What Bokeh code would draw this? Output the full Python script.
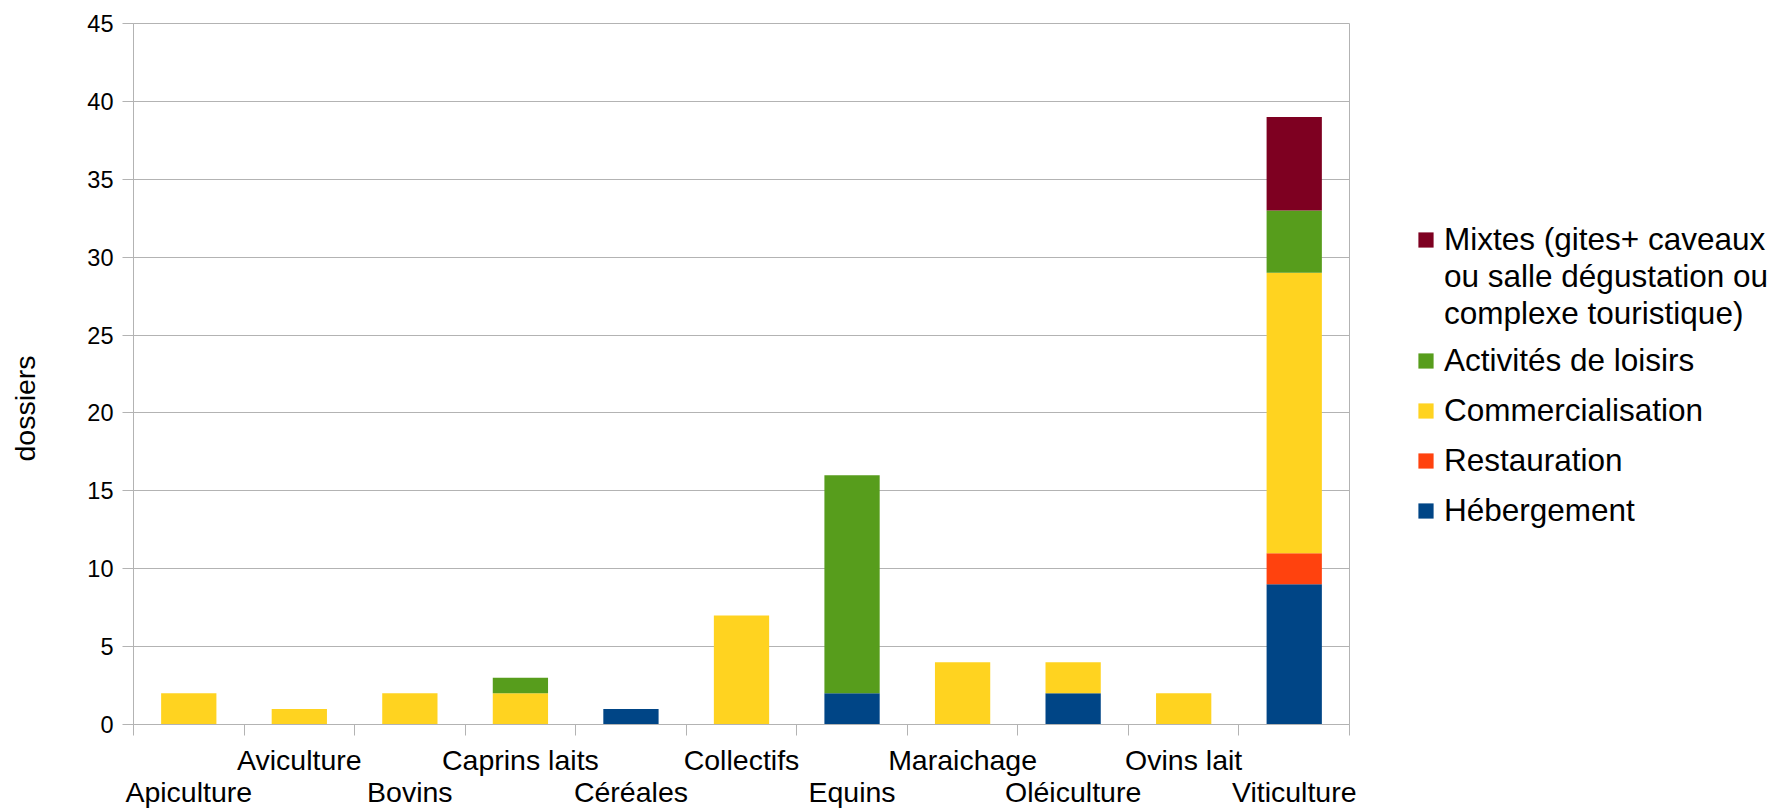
import math
from bokeh.plotting import figure
from bokeh.models import (ColumnDataSource, Range1d, FixedTicker, Legend, LegendItem, Label)
from bokeh.layouts import row
from bokeh.embed import file_html
from bokeh.resources import INLINE

# ---- data ----
categories = ["Apiculture", "Aviculture", "Bovins", "Caprins laits", "Céréales",
              "Collectifs", "Equins", "Maraichage", "Oléiculture", "Ovins lait", "Viticulture"]
hebergement = [0, 0, 0, 0, 1, 0, 2, 0, 2, 0, 9]
restauration = [0, 0, 0, 0, 0, 0, 0, 0, 0, 0, 2]
commercialisation = [2, 1, 2, 2, 0, 7, 0, 4, 2, 2, 18]
loisirs = [0, 0, 0, 1, 0, 0, 14, 0, 0, 0, 4]
mixtes = [0, 0, 0, 0, 0, 0, 0, 0, 0, 0, 6]
series_keys = ["hebergement", "restauration", "commercialisation", "loisirs", "mixtes"]
series_names = ["Hébergement", "Restauration", "Commercialisation", "Activités de loisirs",
                "Mixtes (gites+ caveaux\nou salle dégustation ou\ncomplexe touristique)"]
series_colors = ["#004586", "#ff420e", "#ffd320", "#579d1c", "#7e0021"]
y_ticks = list(range(0, 50, 5))
y_label = "dossiers"

FONT = "Liberation Sans"
GRID = "#b3b3b3"
n = len(categories)
centers = [i + 0.5 for i in range(n)]

source = ColumnDataSource(dict(
    x=centers,
    hebergement=hebergement, restauration=restauration,
    commercialisation=commercialisation, loisirs=loisirs, mixtes=mixtes,
))

p = figure(width=1310, height=811, x_range=Range1d(0, n), y_range=Range1d(0, 45),
           output_backend="svg", toolbar_location=None,
           min_border_left=83, min_border_right=11, min_border_top=23, min_border_bottom=87)
p.outline_line_color = GRID
p.background_fill_color = "white"
p.border_fill_color = "white"

renderers = p.vbar_stack(series_keys, x="x", width=0.5, source=source,
                         fill_color=series_colors, line_color=None)

# x axis: staggered category labels (even index on the lower row), boundary ticks as minor ticks
labels = {centers[i]: (categories[i] if i % 2 == 1 else "\n" + categories[i]) for i in range(n)}
xa = p.xaxis[0]
xa.ticker = FixedTicker(ticks=centers, minor_ticks=list(range(n + 1)))
xa.major_label_overrides = labels
xa.axis_line_color = GRID
xa.major_tick_line_color = None
xa.major_tick_out = 0
xa.major_tick_in = 0
xa.minor_tick_line_color = GRID
xa.minor_tick_out = 11
xa.minor_tick_in = 0
xa.major_label_text_font = FONT
xa.major_label_text_font_size = "28.5px"
xa.major_label_text_line_height = 1.0
xa.major_label_text_color = "black"
xa.major_label_standoff = 8
p.xgrid.visible = False

# y axis
p.yaxis.ticker = FixedTicker(ticks=y_ticks)
p.yaxis.axis_line_color = GRID
p.yaxis.major_tick_line_color = GRID
p.yaxis.major_tick_out = 11
p.yaxis.major_tick_in = 0
p.yaxis.minor_tick_line_color = None
p.yaxis.major_label_text_font = FONT
p.yaxis.major_label_text_font_size = "23.5px"
p.yaxis.major_label_text_color = "black"
p.yaxis.major_label_standoff = 9
p.ygrid.ticker = FixedTicker(ticks=y_ticks)
p.ygrid.grid_line_color = GRID

# ---- y axis title panel (own narrow figure, frame aligned with the chart) ----
tf = figure(width=50, height=811, x_range=Range1d(0, 1), y_range=p.y_range,
            output_backend="svg", toolbar_location=None,
            min_border_left=0, min_border_right=0, min_border_top=0, min_border_bottom=0)
tf.outline_line_color = None
tf.axis.visible = False
tf.grid.visible = False
tf.add_layout(Label(x=24, y=316, x_units="screen", y_units="screen", angle=math.pi / 2,
                    text=y_label, text_align="center", text_baseline="middle",
                    text_font=FONT, text_font_size="28.5px", text_color="black"))

# ---- legend panel (own figure so that nothing is clipped) ----
lg = figure(width=408, height=811, x_range=Range1d(-2, -1), y_range=Range1d(-2, -1),
            output_backend="svg", toolbar_location=None,
            min_border_left=0, min_border_right=0, min_border_top=0, min_border_bottom=0)
lg.outline_line_color = None
lg.axis.visible = False
lg.grid.visible = False
swatches = lg.vbar_stack(series_keys, x="x", width=0.5, source=source,
                         fill_color=series_colors, line_color=None)
blank = lg.vbar(x="x", top="mixtes", width=0.5, source=source, fill_color=None, line_color=None)

mixte_lines = series_names[4].split("\n")
legend_a = Legend(items=[LegendItem(label=mixte_lines[0], renderers=[swatches[4]])] +
                        [LegendItem(label=t, renderers=[blank]) for t in mixte_lines[1:]],
                  location=(56, 392), spacing=0, label_height=37)
legend_b = Legend(items=[LegendItem(label=series_names[k], renderers=[swatches[k]])
                         for k in reversed(range(4))],
                  location=(56, 195), spacing=13, label_height=37)
for lgd in (legend_a, legend_b):
    lgd.orientation = "vertical"
    lgd.glyph_width = 19
    lgd.glyph_height = 19
    lgd.label_standoff = 9
    lgd.padding = 0
    lgd.margin = 0
    lgd.border_line_color = None
    lgd.background_fill_alpha = 0
    lgd.label_text_font = FONT
    lgd.label_text_font_size = "31.5px"
    lgd.label_text_color = "black"
    lg.add_layout(lgd)

layout = row(tf, p, lg)
open("out.html", "w").write(file_html(layout, INLINE))
